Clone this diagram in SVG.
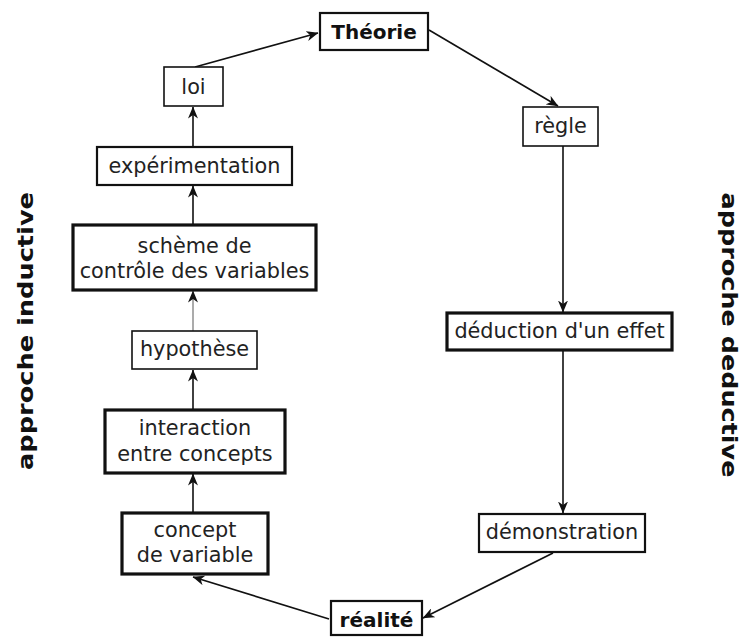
<svg xmlns="http://www.w3.org/2000/svg" width="742" height="637" viewBox="0 0 742 637">
<style>
  .box{fill:#fff;stroke:#111}
  .thin{stroke-width:1.6}
  .med{stroke-width:2.2}
  .thick{stroke-width:3.2}
  .t{font-family:"DejaVu Sans","Liberation Sans",sans-serif;font-size:20.8px;fill:#222;text-anchor:middle}
  .b{font-family:"DejaVu Sans","Liberation Sans",sans-serif;font-size:20px;font-weight:bold;fill:#111;text-anchor:middle}
  .side{font-family:"DejaVu Sans","Liberation Sans",sans-serif;font-size:22px;font-weight:bold;fill:#111;text-anchor:middle}
  .c{fill:none;stroke:#111;stroke-width:1.6}
</style>
<defs>
  <marker id="arr" viewBox="0 0 12 10" refX="11.5" refY="5" markerWidth="12" markerHeight="10" markerUnits="userSpaceOnUse" orient="auto">
    <path d="M0,0 L12,5 L0,10 L3.5,5 z" fill="#111"/>
  </marker>
</defs>
<rect width="742" height="637" fill="#fff"/>
<g id="connectors">
  <line class="c" x1="195" y1="67" x2="318" y2="33" marker-end="url(#arr)"/>
  <line class="c" x1="429" y1="30" x2="558" y2="106" marker-end="url(#arr)"/>
  <line class="c" x1="563" y1="146" x2="563" y2="312" marker-end="url(#arr)"/>
  <line class="c" x1="563" y1="350" x2="563" y2="513" marker-end="url(#arr)"/>
  <line class="c" x1="553" y1="553" x2="423" y2="618" marker-end="url(#arr)"/>
  <line class="c" x1="329" y1="619" x2="193" y2="577" marker-end="url(#arr)"/>
  <line class="c" x1="193" y1="513" x2="193" y2="474" marker-end="url(#arr)"/>
  <line class="c" x1="193" y1="410" x2="193" y2="370" marker-end="url(#arr)"/>
  <line class="c" x1="193" y1="331" x2="193" y2="291" style="stroke:#666;stroke-width:1.1" marker-end="url(#arr)"/>
  <line class="c" x1="193" y1="225" x2="193" y2="186" marker-end="url(#arr)"/>
  <line class="c" x1="193" y1="147" x2="193" y2="107" marker-end="url(#arr)"/>
</g>
<g id="theorie"><rect class="box med" x="320" y="13" width="108" height="37"/><text class="b" x="374" y="38.5">Théorie</text></g>
<g id="loi"><rect class="box thin" x="164" y="67" width="59" height="39"/><text class="t" x="193.5" y="93.5">loi</text></g>
<g id="regle"><rect class="box thin" x="523" y="107" width="75" height="39"/><text class="t" x="560.5" y="133">règle</text></g>
<g id="experimentation"><rect class="box med" x="97" y="147" width="195" height="38"/><text class="t" x="194.5" y="173">expérimentation</text></g>
<g id="scheme"><rect class="box thick" x="73" y="225" width="243" height="65"/><text class="t" x="194.5" y="253">schème de</text><text class="t" x="194.5" y="278">contrôle des variables</text></g>
<g id="hypothese"><rect class="box thin" x="132" y="331" width="125" height="38"/><text class="t" x="194.5" y="356">hypothèse</text></g>
<g id="interaction"><rect class="box thick" x="105" y="410" width="180" height="63"/><text class="t" x="195" y="435">interaction</text><text class="t" x="195" y="461">entre concepts</text></g>
<g id="concept"><rect class="box thick" x="122" y="513" width="146" height="61"/><text class="t" x="195" y="537">concept</text><text class="t" x="195" y="562">de variable</text></g>
<g id="deduction"><rect class="box thick" x="447" y="313" width="225" height="37"/><text class="t" x="559.5" y="338">déduction d'un effet</text></g>
<g id="demonstration"><rect class="box med" x="479" y="514" width="166" height="38"/><text class="t" x="562" y="539">démonstration</text></g>
<g id="realite"><rect class="box med" x="331" y="601" width="91" height="34"/><text class="b" x="376.5" y="627">réalité</text></g>
<g id="labels">
  <text class="side" transform="translate(33,331) rotate(-90)" textLength="278" lengthAdjust="spacingAndGlyphs">approche inductive</text>
  <text class="side" transform="translate(722,335) rotate(90)" textLength="285" lengthAdjust="spacingAndGlyphs">approche deductive</text>
</g>
</svg>
